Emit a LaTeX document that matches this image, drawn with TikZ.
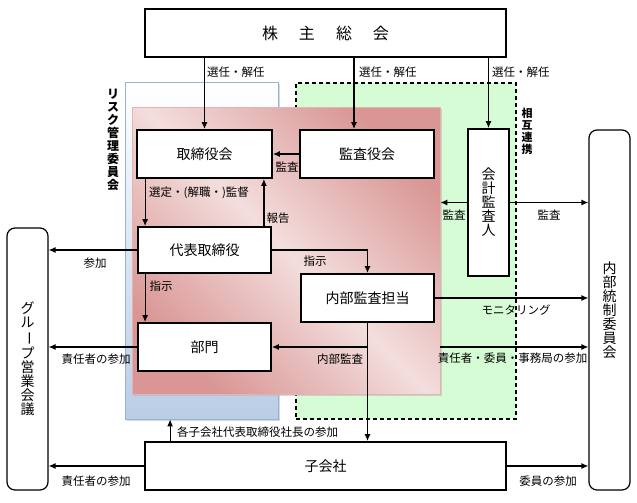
\documentclass[tikz,border=0pt]{standalone}
\usepackage{fontspec}
\setmainfont{Noto Sans CJK JP}
\usetikzlibrary{arrows.meta,shadows}
\definecolor{blueB}{RGB}{185,205,229}
\definecolor{blueE}{RGB}{149,179,215}
\definecolor{greenF}{RGB}{214,252,214}
\definecolor{redD}{RGB}{217,150,148}
\definecolor{redL}{RGB}{243,222,221}
\definecolor{redE}{RGB}{228,180,179}
\tikzset{
 box/.style={draw=black, line width=1.8pt, fill=white, inner sep=0pt, font=\fontsize{14}{14}\selectfont},
 side/.style={draw=black, line width=1.2pt, fill=white, rounded corners=8pt, inner sep=0pt, font=\fontsize{14}{14}\selectfont, align=center},
 arr/.style={line width=1.2pt, -{Latex[length=7pt,width=6pt]}},
 lbl/.style={font=\fontsize{11.5}{12}\selectfont, inner sep=0pt},
 vlbl/.style={font=\bfseries\fontsize{12}{13}\selectfont, inner sep=0pt, align=center},
}
\begin{document}
\begin{tikzpicture}[x=1pt,y=-1pt]
\useasboundingbox (0,0) rectangle (637,503);
% background areas
\node[draw=blueE, line width=0.8pt, top color=white, bottom color=blueB, minimum width=153pt, minimum height=337pt, inner sep=0pt, drop shadow={shadow xshift=2pt, shadow yshift=-2pt, fill=black!30}] (risk) at (201.5,250.5) {};
\node[draw=black, dash pattern=on 4pt off 3pt, line width=1.2pt, fill=greenF, minimum width=220pt, minimum height=336pt, inner sep=0pt] (green) at (406,251) {};
\node[draw=redE, line width=0.8pt, top color=redD, bottom color=redD, middle color=redL, shading angle=-45, minimum width=308pt, minimum height=287pt, inner sep=0pt, drop shadow={shadow xshift=2pt, shadow yshift=-2pt, fill=black!30}] (red) at (286,250.5) {};
% vertical labels
\node[vlbl] (risklbl) at (113,140) {リ\\ス\\ク\\管\\理\\委\\員\\会};
\node[vlbl, font=\bfseries\fontsize{11}{12}\selectfont] (sogo) at (527,131) {相\\互\\連\\携};
% boxes
\node[box, minimum width=361pt, minimum height=48pt, font=\fontsize{16}{16}\selectfont] (kabu) at (325.5,33) {株\hspace{21pt}主\hspace{21pt}総\hspace{21pt}会};
\node[box, minimum width=135pt, minimum height=48pt] (tori) at (204.5,154) {取締役会};
\node[box, minimum width=134pt, minimum height=48pt] (kansa) at (367,154) {監査役会};
\node[box, minimum width=41pt, minimum height=147pt, align=center] (kaikei) at (488.5,202.5) {会\\計\\監\\査\\人};
\node[box, minimum width=133pt, minimum height=46pt] (daihyo) at (204.5,250) {代表取締役};
\node[box, minimum width=133pt, minimum height=48pt] (bumon) at (204.5,347) {部門};
\node[box, minimum width=133pt, minimum height=48pt] (naikan) at (367.5,298) {内部監査担当};
\node[box, minimum width=361pt, minimum height=48pt] (ko) at (325.5,466) {子会社};
\node[side, minimum width=41pt, minimum height=262pt] (group) at (27.5,359) {グ\\ル\\\rotatebox[origin=c]{-90}{ー}\\プ\\営\\業\\会\\議};
\node[side, minimum width=41pt, minimum height=360pt] (naibu) at (609.5,310) {内\\部\\統\\制\\委\\員\\会};
% connectors from kabu
\draw[arr] (kabu.south -| tori.north) -- (tori.north);
\draw[arr] ([xshift=-13pt]kansa.north |- kabu.south) -- ([xshift=-13pt]kansa.north);
\draw[arr] (kabu.south -| kaikei.north) -- (kaikei.north);
\node[lbl, anchor=west] (l1) at (207,72) {選任・解任};
\node[lbl, anchor=west] (l2) at (359,72) {選任・解任};
\node[lbl, anchor=west] (l3) at (492,72) {選任・解任};
% kansa -> tori
\draw[arr] (kansa.west) -- (tori.east);
\node[lbl] (l4) at (287,167) {監査};
% tori <-> daihyo
\draw[arr] ([xshift=9pt]tori.south west) -- ([xshift=9pt]tori.south west |- daihyo.north);
\node[lbl, anchor=west] (l5) at (149,193) {選定・(解職・)監督};
\draw[arr] ([xshift=-8pt]daihyo.north east) -- ([xshift=-8pt]daihyo.north east |- tori.south);
\node[lbl] (l6) at (278,218) {報告};
% daihyo -> group, bumon
\draw[arr] (daihyo.west) -- (daihyo.west -| group.east);
\node[lbl] (l7) at (95,263) {参加};
\draw[arr] (bumon.west) -- (bumon.west -| group.east);
\node[lbl] (l8) at (96,359) {責任者の参加};
\draw[arr] ([xshift=8pt]daihyo.south west) -- ([xshift=8pt]daihyo.south west |- bumon.north);
\node[lbl] (l9) at (161,286) {指示};
% daihyo -> naikan
\draw[arr] (daihyo.east) -| (naikan.north);
\node[lbl] (l10) at (315,261) {指示};
% naikan -> naibu
\draw[arr] (naikan.east) -- (naikan.east -| naibu.west);
\node[lbl] (l11) at (516,310) {モニタリング};
\draw[arr] (bumon.east -| red.east) -- (bumon.east -| naibu.west);
\node[lbl] (l12) at (512.5,358) {責任者・委員・事務局の参加};
% naikan -> bumon, ko
\draw[arr] (naikan.south) -- (naikan.south |- ko.north);
\draw[arr] (naikan.south |- bumon.east) -- (bumon.east);
\node[lbl] (l13) at (340,359) {内部監査};
% kaikei
\draw[arr] (kaikei.west) -- (kaikei.west -| red.east);
\node[lbl] (l14) at (454,215) {監査};
\draw[arr] (kaikei.east) -- (kaikei.east -| naibu.west);
\node[lbl] (l15) at (549,215) {監査};
% ko
\draw[arr] ([xshift=26pt]ko.north west) -- ([xshift=26pt]ko.north west |- risk.south);
\node[lbl, anchor=west] (l16) at (177,432) {各子会社代表取締役社長の参加};
\draw[arr] (ko.west) -- (ko.west -| group.east);
\node[lbl] (l17) at (96,481) {責任者の参加};
\draw[arr] (ko.east) -- (ko.east -| naibu.west);
\node[lbl] (l18) at (548,481) {委員の参加};
\end{tikzpicture}
\end{document}
